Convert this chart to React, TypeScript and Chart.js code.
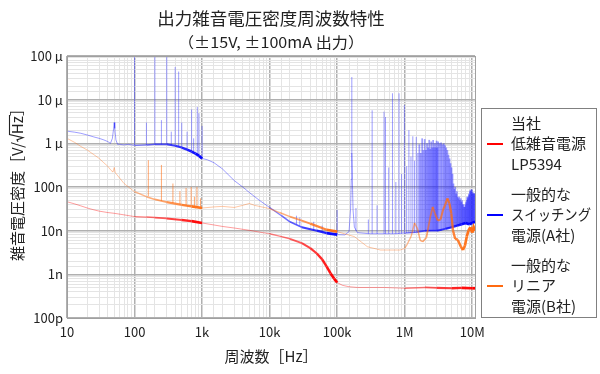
import React, { useEffect, useRef } from "react";
import { Chart, registerables } from "chart.js";

Chart.register(...registerables);

const FONT = '"Noto Sans CJK JP", "Noto Sans", sans-serif';

const TITLE = "出力雑音電圧密度周波数特性";
const SUBTITLE = "（±15V, ±100mA 出力）";
const X_TITLE = "周波数［Hz］";
const Y_TITLE_HEAD = "雑音電圧密度［V/";
const Y_TITLE_HZ = "Hz";
const Y_TITLE_TAIL = "］";

const xTickValues = [10, 100, 1e3, 1e4, 1e5, 1e6, 1e7];
const xTickLabels = ["10", "100", "1k", "10k", "100k", "1M", "10M"];
const yTickValues = [1e-10, 1e-9, 1e-8, 1e-7, 1e-6, 1e-5, 1e-4];
const yTickLabels = ["100p", "1n", "10n", "100n", "1 μ", "10 μ", "100 μ"];

const legendNames = [
  ["当社", "低雑音電源", "LP5394"],
  ["一般的な", "スイッチング", "電源(A社)"],
  ["一般的な", "リニア", "電源(B社)"],
];
const legendColors = ["#ff0000", "#0000ff", "#ff6a10"];

// LP5394 (red)
const redFreq = [10, 13, 16, 20, 25, 30, 40, 50, 70, 100, 150, 200, 300, 500, 700, 1000, 1500, 2000, 3000, 5000, 7000, 10000, 14000, 20000, 30000, 40000, 50000, 60000, 70000, 80000, 90000, 100000, 120000, 150000, 200000, 300000, 500000, 1e6, 2e6, 3e6, 5e6, 7e6, 1e7, 1.1e7];
const redVal = [46e-9, 41e-9, 37e-9, 33e-9, 30e-9, 28e-9, 26e-9, 25e-9, 23e-9, 21e-9, 20.5e-9, 20e-9, 19e-9, 17.5e-9, 16.5e-9, 15e-9, 13.5e-9, 12.5e-9, 11.5e-9, 10.2e-9, 9.3e-9, 8.5e-9, 7.5e-9, 6.5e-9, 5.2e-9, 4.0e-9, 3.0e-9, 2.2e-9, 1.5e-9, 1.05e-9, 0.8e-9, 0.65e-9, 0.56e-9, 0.52e-9, 0.5e-9, 0.5e-9, 0.5e-9, 0.48e-9, 0.5e-9, 0.49e-9, 0.48e-9, 0.49e-9, 0.48e-9, 0.48e-9];

// Switching supply A (blue)
const blueFreq = [10, 13, 16, 20, 25, 30, 35, 40, 44, 47, 49, 50, 51, 53, 56, 60, 70, 80, 100, 150, 200, 300, 400, 500, 600, 700, 800, 900, 1000, 1200, 1500, 2000, 3000, 4000, 5000, 7000, 10000, 15000, 20000, 30000, 50000, 70000, 100000, 130000, 150000, 158000, 162000, 165000, 168000, 172000, 180000, 200000, 300000, 500000, 700000, 1e6, 1.5e6, 2e6, 3e6, 4e6, 5e6, 6e6, 7e6, 8e6, 9e6, 1e7, 1.1e7];
const blueVal = [1.9e-6, 1.8e-6, 1.7e-6, 1.55e-6, 1.4e-6, 1.3e-6, 1.2e-6, 1.1e-6, 1.0e-6, 1.3e-6, 2.2e-6, 3.0e-6, 2.2e-6, 1.2e-6, 0.95e-6, 0.95e-6, 0.92e-6, 0.95e-6, 0.9e-6, 0.92e-6, 0.95e-6, 0.95e-6, 0.88e-6, 0.8e-6, 0.72e-6, 0.65e-6, 0.58e-6, 0.52e-6, 0.45e-6, 0.42e-6, 0.36e-6, 0.26e-6, 0.14e-6, 0.1e-6, 0.075e-6, 0.05e-6, 34e-9, 22e-9, 16e-9, 12e-9, 10e-9, 8.8e-9, 8.1e-9, 8e-9, 9.5e-9, 30e-9, 0.15e-6, 0.6e-6, 0.15e-6, 30e-9, 12e-9, 9e-9, 8.5e-9, 8.5e-9, 8.5e-9, 8.8e-9, 9.2e-9, 10e-9, 10e-9, 11e-9, 12e-9, 13e-9, 14e-9, 15e-9, 14e-9, 15e-9, 16e-9];

// Linear supply B (orange)
const orangeFreq = [10, 13, 16, 20, 25, 30, 35, 40, 45, 48, 50, 52, 55, 70, 100, 150, 200, 300, 500, 700, 1000, 1500, 2000, 3000, 4000, 5000, 6000, 7000, 10000, 14000, 20000, 30000, 40000, 70000, 100000, 180000, 280000, 440000, 850000, 1e6, 1.1e6, 1.25e6, 1.4e6, 1.55e6, 1.7e6, 1.85e6, 2.1e6, 2.4e6, 2.6e6, 2.8e6, 3.1e6, 3.4e6, 3.7e6, 4.0e6, 4.3e6, 4.6e6, 4.9e6, 5.2e6, 5.6e6, 6.1e6, 6.8e6, 7.3e6, 7.8e6, 8.3e6, 8.8e6, 9.4e6, 1e7, 1.05e7, 1.1e7];
const orangeVal = [1.3e-6, 1.05e-6, 0.85e-6, 0.7e-6, 0.55e-6, 0.45e-6, 0.36e-6, 0.3e-6, 0.24e-6, 0.22e-6, 0.28e-6, 0.21e-6, 0.19e-6, 0.12e-6, 78e-9, 60e-9, 52e-9, 45e-9, 39e-9, 36e-9, 33e-9, 35e-9, 36e-9, 34e-9, 38e-9, 42e-9, 38e-9, 36e-9, 32e-9, 26e-9, 21e-9, 17e-9, 14.5e-9, 10.5e-9, 9.5e-9, 7.3e-9, 4.3e-9, 3.6e-9, 3.6e-9, 3.9e-9, 5e-9, 7.5e-9, 15e-9, 11e-9, 6e-9, 5.6e-9, 7e-9, 21e-9, 35e-9, 25e-9, 17e-9, 18e-9, 30e-9, 40e-9, 55e-9, 42e-9, 25e-9, 10e-9, 6.5e-9, 6.2e-9, 4.3e-9, 3.6e-9, 4.5e-9, 7.3e-9, 10e-9, 12e-9, 9e-9, 12e-9, 10e-9];

// spurs: [frequency, floor, peak]
const blueSpikes: [number, number, number][] = [
  [100, 0.9e-6, 2e-4], [150, 0.92e-6, 3e-6], [200, 0.95e-6, 2e-4], [250, 0.95e-6, 3.4e-6],
  [300, 0.95e-6, 2e-4], [350, 0.9e-6, 1.85e-6], [400, 0.88e-6, 56e-6], [450, 0.85e-6, 44e-6],
  [500, 0.8e-6, 3e-6], [600, 0.72e-6, 1.85e-6], [700, 0.65e-6, 6e-6], [750, 0.62e-6, 1.3e-6],
  [850, 0.55e-6, 6.8e-6], [900, 0.52e-6, 4.9e-6], [1000, 0.45e-6, 2.5e-6],
  [25000, 14e-9, 22e-9], [28000, 13e-9, 20e-9], [45000, 10e-9, 16e-9], [60000, 9.5e-9, 13e-9],
  [100000, 8.2e-9, 30e-9], [165000, 0.6e-6, 33e-6], [190000, 10e-9, 33e-9], [290000, 8.5e-9, 18e-9],
  [330000, 8.5e-9, 5.7e-6], [390000, 8.5e-9, 38e-9], [495000, 8.5e-9, 5.3e-6], [520000, 8.5e-9, 4e-6],
  [580000, 8.5e-9, 0.28e-6], [660000, 8.5e-9, 14e-6], [740000, 8.5e-9, 0.13e-6], [825000, 8.5e-9, 14e-6],
  [900000, 8.6e-9, 0.2e-6], [990000, 8.8e-9, 7.5e-6], [1.07e6, 8.9e-9, 0.3e-6], [1.155e6, 9e-9, 2e-6],
  [1.24e6, 9e-9, 0.5e-6], [1.32e6, 9.1e-9, 1.45e-6], [1.40e6, 9.1e-9, 0.4e-6], [1.485e6, 9.2e-9, 1.4e-6],
  [1.57e6, 9.3e-9, 0.6e-6], [1.65e6, 9.5e-9, 0.95e-6], [1.73e6, 9.5e-9, 0.6e-6], [1.815e6, 9.5e-9, 1.3e-6],
  [1.9e6, 9.5e-9, 0.7e-6], [1.98e6, 9.6e-9, 1.25e-6], [2.06e6, 9.6e-9, 0.7e-6],
  [2.145e6, 9.7e-9, 1.0e-6], [2.23e6, 9.7e-9, 0.8e-6], [2.31e6, 9.8e-9, 1.2e-6], [2.39e6, 9.8e-9, 0.75e-6],
  [2.475e6, 9.9e-9, 1.1e-6], [2.56e6, 9.9e-9, 0.8e-6], [2.64e6, 10e-9, 1.2e-6], [2.72e6, 10e-9, 0.8e-6],
  [2.805e6, 10e-9, 1.0e-6], [2.89e6, 10e-9, 0.8e-6], [2.97e6, 10e-9, 1.15e-6], [3.05e6, 10e-9, 0.8e-6],
  [3.135e6, 10e-9, 1.1e-6], [3.3e6, 10e-9, 1.0e-6],
  [3.465e6, 10e-9, 1.05e-6], [3.63e6, 10.5e-9, 0.95e-6], [3.795e6, 10.5e-9, 1.0e-6], [3.96e6, 11e-9, 0.9e-6],
  [4.125e6, 11e-9, 0.8e-6], [4.29e6, 11e-9, 0.7e-6], [4.455e6, 11.5e-9, 0.55e-6], [4.62e6, 11.5e-9, 0.45e-6],
  [4.785e6, 12e-9, 0.35e-6], [4.95e6, 12e-9, 0.28e-6], [5.115e6, 12e-9, 0.2e-6], [5.28e6, 12.5e-9, 0.12e-6],
  [5.445e6, 12.5e-9, 0.09e-6], [5.61e6, 13e-9, 0.1e-6], [5.775e6, 13e-9, 0.07e-6], [5.94e6, 13e-9, 0.08e-6],
  [6.105e6, 13e-9, 0.06e-6], [6.27e6, 13.5e-9, 0.055e-6], [6.435e6, 13.5e-9, 0.06e-6], [6.6e6, 14e-9, 0.05e-6],
  [6.765e6, 14e-9, 0.055e-6], [6.93e6, 14e-9, 0.045e-6], [7.095e6, 14e-9, 0.05e-6], [7.26e6, 14e-9, 0.04e-6],
  [7.425e6, 14e-9, 0.04e-6], [7.59e6, 14e-9, 0.035e-6], [7.755e6, 14e-9, 0.035e-6], [7.92e6, 14.5e-9, 0.04e-6],
  [8.085e6, 14.5e-9, 0.045e-6], [8.25e6, 15e-9, 0.05e-6], [8.415e6, 15e-9, 0.06e-6], [8.58e6, 15e-9, 0.055e-6],
  [8.745e6, 15e-9, 0.06e-6], [8.91e6, 15e-9, 0.07e-6], [9.075e6, 15e-9, 0.065e-6], [9.24e6, 15e-9, 0.08e-6],
  [9.405e6, 15e-9, 0.085e-6], [9.57e6, 15e-9, 0.08e-6], [9.735e6, 15e-9, 0.09e-6], [9.9e6, 15e-9, 0.085e-6],
  [10.065e6, 15e-9, 0.075e-6], [10.23e6, 15.5e-9, 0.07e-6], [10.4e6, 15.5e-9, 0.075e-6], [10.56e6, 16e-9, 0.07e-6],
  [10.73e6, 16e-9, 0.07e-6], [10.9e6, 16e-9, 0.072e-6],
];
const orangeSpikes: [number, number, number][] = [
  [160, 62e-9, 0.41e-6], [250, 48e-9, 0.32e-6], [370, 43e-9, 0.12e-6], [470, 40e-9, 80e-9],
  [580, 38e-9, 95e-9], [690, 37e-9, 0.1e-6], [770, 36e-9, 60e-9], [840, 35e-9, 0.1e-6], [950, 34e-9, 55e-9],
];

function toPoints(fs: number[], vs: number[]) {
  return fs.map((f, i) => ({ x: f, y: vs[i] }));
}
function spikePoints(sp: [number, number, number][]) {
  const out: { x: number; y: number | null }[] = [];
  for (const [f, lo, hi] of sp) {
    out.push({ x: f, y: lo }, { x: f, y: hi }, { x: f, y: null });
  }
  return out;
}

// sweep-density look: within the analyzer's dense decades the trace saturates
function density(f: number) {
  const lg = Math.log10(f);
  const d = Math.floor(lg + 1e-9);
  const fr = lg - d;
  if (d >= 7) return 1;
  if (d === 2 || d === 4 || d === 6) return 0.15 + 0.85 * Math.pow(fr, 1.2);
  return 0;
}
function segStyle(rgb: string) {
  const mid = (ctx: any) => Math.sqrt(ctx.p0.parsed.x * ctx.p1.parsed.x);
  return {
    borderColor: (ctx: any) => `rgba(${rgb},${(0.38 + 0.62 * density(mid(ctx))).toFixed(3)})`,
    borderWidth: (ctx: any) => 1 + 1.8 * density(mid(ctx)),
  };
}

function isDecade(v: number) {
  const l = Math.log10(v);
  return Math.abs(l - Math.round(l)) < 1e-6;
}
function labelFrom(values: number[], labels: string[]) {
  return (v: any) => {
    const n = Number(v);
    for (let i = 0; i < values.length; i++) {
      if (Math.abs(Math.log10(n) - Math.log10(values[i])) < 1e-6) return labels[i];
    }
    return "";
  };
}
const gridColor = (ctx: any) => (ctx.tick && isDecade(ctx.tick.value) ? "#b0b0b0" : "#e4e4e4");
const gridWidth = (ctx: any) => (ctx.tick && isDecade(ctx.tick.value) ? 1.5 : 1);

function fillTextWidth(ctx: CanvasRenderingContext2D, text: string, cx: number, cy: number, width: number) {
  const w = ctx.measureText(text).width;
  ctx.save();
  ctx.translate(cx, cy);
  ctx.scale(width / w, 1);
  ctx.textAlign = "center";
  ctx.fillText(text, 0, 0);
  ctx.restore();
}

const decor = {
  id: "decor",
  beforeDraw(chart: any) {
    const ctx = chart.ctx;
    ctx.save();
    ctx.fillStyle = "#ffffff";
    ctx.fillRect(0, 0, chart.width, chart.height);
    ctx.restore();
  },
  afterDraw(chart: any) {
    const ctx = chart.ctx as CanvasRenderingContext2D;
    const a = chart.chartArea;
    ctx.save();
    // frame
    ctx.strokeStyle = "#a0a0a0";
    ctx.lineWidth = 1;
    ctx.strokeRect(Math.round(a.left) + 0.5, Math.round(a.top) + 0.5, Math.round(a.right - a.left), Math.round(a.bottom - a.top));
    const cx = (a.left + a.right) / 2;
    ctx.fillStyle = "#222";
    ctx.textAlign = "center";
    ctx.textBaseline = "middle";
    ctx.font = `17.5px ${FONT}`;
    ctx.fillText(TITLE, cx, 18);
    ctx.font = `15px ${FONT}`;
    fillTextWidth(ctx, SUBTITLE, cx, 42, 186);
    ctx.font = `15px ${FONT}`;
    ctx.fillText(X_TITLE, cx, 356);
    // y title with hand-drawn radical over Hz
    ctx.save();
    ctx.translate(17, (a.top + a.bottom) / 2 - 6);
    ctx.rotate(-Math.PI / 2);
    ctx.font = `15px ${FONT}`;
    ctx.textAlign = "left";
    const wHead = ctx.measureText(Y_TITLE_HEAD).width;
    const wRad = 8;
    const wHz = ctx.measureText(Y_TITLE_HZ).width;
    const wTail = ctx.measureText(Y_TITLE_TAIL).width;
    const x0 = -(wHead + wRad + wHz + wTail) / 2;
    ctx.fillText(Y_TITLE_HEAD, x0, 0);
    ctx.fillText(Y_TITLE_HZ, x0 + wHead + wRad, 0);
    ctx.fillText(Y_TITLE_TAIL, x0 + wHead + wRad + wHz, 0);
    ctx.strokeStyle = "#222";
    ctx.lineWidth = 1.1;
    const rx = x0 + wHead + 0.5;
    ctx.beginPath();
    ctx.moveTo(rx, 1);
    ctx.lineTo(rx + 1.8, 0);
    ctx.lineTo(rx + 4, 6);
    ctx.lineTo(rx + 7, -7.5);
    ctx.lineTo(rx + wRad + wHz + 0.5, -7.5);
    ctx.stroke();
    ctx.restore();
    // legend
    ctx.strokeStyle = "#808080";
    ctx.lineWidth = 1;
    ctx.strokeRect(481.5, 108.5, 115, 209);
    ctx.font = `15px ${FONT}`;
    ctx.textAlign = "left";
    ctx.textBaseline = "middle";
    const groupTop = [123, 194, 265];
    legendNames.forEach((lines, g) => {
      lines.forEach((t, i) => {
        ctx.fillStyle = "#222";
        ctx.fillText(t, 511, groupTop[g] + i * 20.5, 80);
      });
      ctx.strokeStyle = legendColors[g];
      ctx.lineWidth = 2;
      ctx.beginPath();
      const ly = Math.round(groupTop[g] + 20.5);
      ctx.moveTo(487, ly);
      ctx.lineTo(503, ly);
      ctx.stroke();
    });
    ctx.restore();
  },
};

export default function App() {
  const ref = useRef<HTMLCanvasElement>(null);
  useEffect(() => {
    if (!ref.current) return;
    const chart = new Chart(ref.current, {
      type: "line",
      data: {
        datasets: [
          {
            label: "B spurs",
            data: spikePoints(orangeSpikes) as any,
            borderColor: "rgba(255,110,20,0.6)",
            borderWidth: 1,
            pointRadius: 0,
            spanGaps: false,
            order: 2,
          },
          {
            label: "一般的なリニア電源(B社)",
            data: toPoints(orangeFreq, orangeVal),
            borderColor: "rgb(255,110,20)",
            segment: segStyle("255,110,20"),
            pointRadius: 0,
            order: 1,
          },
          {
            label: "当社 低雑音電源 LP5394",
            data: toPoints(redFreq, redVal),
            borderColor: "rgb(255,0,0)",
            segment: segStyle("255,0,0"),
            pointRadius: 0,
            order: 3,
          },
          {
            label: "一般的なスイッチング電源(A社)",
            data: toPoints(blueFreq, blueVal),
            borderColor: "rgb(0,0,255)",
            segment: segStyle("0,0,255"),
            pointRadius: 0,
            order: 4,
          },
          {
            label: "A spurs",
            data: spikePoints(blueSpikes) as any,
            borderColor: "rgba(40,40,255,0.45)",
            borderWidth: 1,
            segment: {
              borderWidth: (ctx: any) => (ctx.p0.parsed.x > 1.6e6 ? 1.7 : 1),
            },
            pointRadius: 0,
            spanGaps: false,
            order: 5,
          },
        ],
      },
      options: {
        animation: false,
        responsive: false,
        parsing: false as any,
        normalized: true,
        layout: { padding: { left: 0, top: 56, right: 125, bottom: 0 } },
        plugins: { legend: { display: false }, tooltip: { enabled: false }, title: { display: false } },
        scales: {
          x: {
            type: "logarithmic",
            min: 10,
            max: 1.1e7,
            afterFit: (s: any) => {
              s.height = 56;
            },
            border: { display: false },
            grid: { color: gridColor, lineWidth: gridWidth, drawTicks: false },
            ticks: {
              autoSkip: false,
              maxRotation: 0,
              padding: 6,
              color: "#222",
              font: { family: FONT, size: 13 },
              callback: labelFrom(xTickValues, xTickLabels),
            },
          },
          y: {
            type: "logarithmic",
            min: 1e-10,
            max: 1e-4,
            afterFit: (s: any) => {
              s.width = 67;
            },
            border: { display: false },
            grid: { color: gridColor, lineWidth: gridWidth, drawTicks: false },
            ticks: {
              autoSkip: false,
              padding: 4,
              color: "#222",
              font: { family: FONT, size: 13 },
              callback: labelFrom(yTickValues, yTickLabels),
            },
          },
        },
      },
      plugins: [decor],
    });
    return () => chart.destroy();
  }, []);
  return (
    <div style={{ position: "absolute", left: 0, top: 0, width: 600, height: 374 }}>
      <canvas ref={ref} width={600} height={374} style={{ display: "block" }} />
    </div>
  );
}
